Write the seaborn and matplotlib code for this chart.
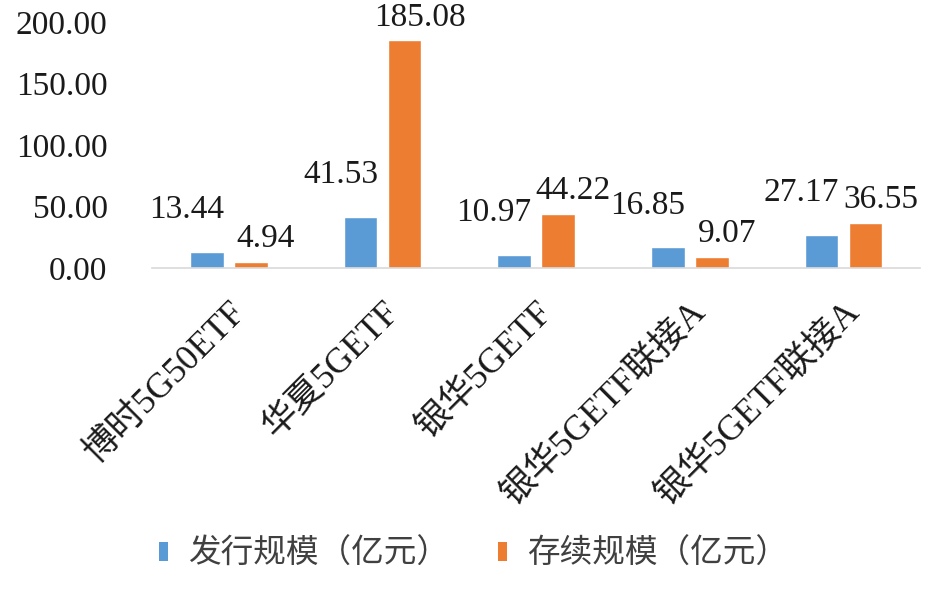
import pandas as pd
import numpy as np
import matplotlib
matplotlib.use('Agg')
import matplotlib.pyplot as plt
import seaborn as sns
from matplotlib.patches import Patch

# fund names and the two series (亿元)
funds = ['博时5G50ETF', '华夏5GETF', '银华5GETF', '银华5GETF联接A', '银华5GETF联接A ']
issue_size = [13.44, 41.53, 10.97, 16.85, 27.17]
current_size = [4.94, 185.08, 44.22, 9.07, 36.55]
series_names = ['发行规模（亿元）', '存续规模（亿元）']
colors = ['#5B9BD5', '#ED7D31']

df = pd.DataFrame({
    '基金': funds * 2,
    '规模': issue_size + current_size,
    '类型': [series_names[0]] * len(funds) + [series_names[1]] * len(funds),
})

sns.set_style('white')
plt.rcParams['font.family'] = ['Liberation Serif', 'Noto Sans CJK SC', 'DejaVu Sans']

fig = plt.figure(figsize=(9.41, 5.97), dpi=100)
ax = fig.add_axes([0.1615, 0.551, 0.8165, 0.412])

sns.barplot(data=df, x='基金', y='规模', hue='类型', palette=colors,
            width=0.573, gap=0.23, ax=ax, legend=False, saturation=1)

# label offsets per series (pixels), to keep neighbouring labels apart
label_shift = [(-20, 42), (15, 23)]
for cont, (dx, dy) in zip(ax.containers, label_shift):
    for bar in cont:
        h = bar.get_height()
        ax.annotate(f'{h:.2f}', xy=(bar.get_x() + bar.get_width() / 2, h),
                    xytext=(dx, dy), textcoords='offset pixels',
                    ha='center', va='center', fontsize=24, color='#1a1a1a',
                    annotation_clip=False)

ax.set_ylim(0, 200)
ax.set_yticks([0, 50, 100, 150, 200])
ax.set_yticklabels([f'{v:.2f}' for v in [0, 50, 100, 150, 200]], fontsize=24, color='#1a1a1a')
ax.tick_params(axis='y', length=0, pad=32)
ax.tick_params(axis='x', length=0, pad=20)
ax.set_xticks(range(len(funds)))
ax.set_xticklabels([f.strip() for f in funds], rotation=45, ha='right',
                   rotation_mode='anchor', fontsize=25.5, color='#1a1a1a')
ax.set_xlabel('')
ax.set_ylabel('')
for s in ['top', 'right', 'left']:
    ax.spines[s].set_visible(False)
ax.spines['bottom'].set_color('#D9D9D9')
ax.spines['bottom'].set_linewidth(1.2)

handles = [Patch(facecolor=c, edgecolor='none') for c in colors]
fig.legend(handles, series_names, loc='center', bbox_to_anchor=(0.503, 0.071),
           ncol=2, frameon=False, fontsize=23.5, handlelength=0.28, handleheight=0.52,
           handletextpad=0.6, columnspacing=1.5, labelcolor='#404040')

fig.savefig('out.png', dpi=100)
